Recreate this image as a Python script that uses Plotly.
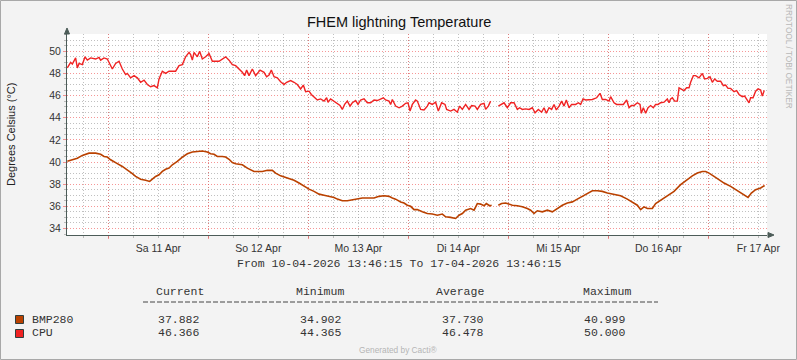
import plotly.graph_objects as go
from datetime import datetime, timedelta

BASE = datetime(2026, 4, 10)

# ---- data (hours since 2026-04-10 00:00, temperature in degC) ----
cpu_hours = [14.16, 14.95, 15.36, 16.15, 16.56, 16.97, 17.76, 18.41, 18.96, 19.75,
             20.95, 21.77, 22.15, 22.97, 23.76, 24.55, 24.96, 25.75, 26.57, 27.36,
             28.15, 28.56, 29.35, 30.17, 30.96, 31.75, 32.57, 33.36, 34.15, 34.97,
             35.76, 36.17, 36.96, 37.75, 38.57, 40.15, 40.97, 41.76, 42.55, 43.37,
             43.75, 44.16, 44.57, 45.36, 45.91, 46.56, 47.35, 48.17, 48.96, 50.57,
             51.36, 52.15, 52.97, 53.76, 54.55, 55.37, 56.16,
             56.71, 57.19, 57.77, 58.56, 59.35, 60.41, 61.37, 61.99, 62.57, 63.12,
             63.77, 64.56, 65.35, 66.17, 66.79, 67.75, 68.57, 69.36, 70.15, 70.8,
             71.35, 72.17, 72.72, 73.51, 74.16, 74.95, 75.77, 76.39, 76.73, 77.35,
             78.17, 78.96, 79.61, 80.16, 80.71, 81.36, 82.01, 82.56, 83.35, 83.93,
             84.55, 85.37, 86.16, 86.95, 87.77, 88.56, 89.35, 90.0, 90.55, 91.37,
             91.75, 92.16, 92.95, 93.77, 94.56, 95.35, 95.93, 96.41, 96.96, 97.75,
             98.16,
             98.96, 99.77, 100.56, 100.97, 101.76, 102.55, 103.2, 103.99, 104.81, 105.19,
             106.15, 106.97, 107.76, 108.31, 108.96, 109.75, 110.57, 111.19, 112.01, 112.56,
             113.35, 114.17, 114.55, 115.2, 115.75, 116.8, 117.6, 118.15, 118.97, 119.76,
             120.55, 121.37, 122.16, 122.71, 123.36, 124.15, 124.97, 125.76, 126.41, 127.2,
             127.99, 128.57, 129.12, 129.77, 130.39, 130.97, 131.52, 132.17, 132.79, 133.37,
             133.92, 134.57, 135.19, 136.15, 136.8, 137.35, 137.93, 138.55, 139.37, 140.16,
             141.19, 142.01, 142.56, 143.35, 144.17, 144.55, 145.37, 145.99, 146.81, 147.6,
             148.39, 148.97, 149.52, 150.17, 150.96, 151.61, 151.92, 152.4, 152.95, 153.53,
             154.15, 154.8, 155.35, 155.93, 156.55, 157.37, 158.16, 158.57, 158.95, 159.36,
             159.91, 160.56, 160.97, 161.52, 162.17, 162.79, 163.37, 163.75, 164.4, 164.95,
             165.77, 166.56, 167.11, 167.76, 168.41, 168.96, 169.51, 170.16, 170.95, 171.6,
             172.15, 172.73, 173.35, 174.17, 174.79, 175.37, 176.16, 176.71, 177.19, 177.77,
             178.15, 178.73, 179.35, 179.93, 180.55, 180.96, 181.37, 181.51]
cpu_temp = [48.5, 49.0, 48.85, 49.4, 48.5, 48.9, 48.8, 49.5, 49.2, 49.4,
            49.3, 49.45, 49.2, 49.4, 49.3, 48.7, 48.4, 48.9, 49.1, 48.4,
            47.9, 48.0, 47.6, 47.8, 47.6, 47.2, 47.4, 47.0, 46.8, 46.9,
            46.7, 47.5, 48.2, 48.0, 48.2, 48.2, 48.7, 48.8, 49.5, 49.9,
            49.7, 49.2, 49.9, 49.5, 50.0, 49.3, 49.5, 49.8, 49.1, 49.1,
            49.3, 49.5, 49.2, 48.8, 48.7, 48.4, 48.1,
            47.8, 48.3, 47.8, 48.4, 47.8, 48.3, 48.1, 47.7, 47.85, 48.3,
            47.7, 47.6, 47.25, 47.0, 47.2, 47.35, 47.2, 47.0, 46.6, 46.95,
            46.35, 46.4, 46.1, 45.8, 45.6, 45.7, 45.5, 45.8, 45.4, 45.7,
            45.5, 45.3, 45.1, 44.75, 45.2, 45.5, 45.05, 45.35, 45.55, 45.2,
            45.6, 45.7, 45.35, 45.35, 45.6, 45.55, 45.65, 45.8, 45.6, 45.5,
            45.2, 45.65, 45.05, 44.9, 45.05, 45.3, 45.35, 44.6, 45.2, 45.6,
            45.5,
            44.75, 44.7, 45.05, 45.35, 45.2, 45.4, 44.6, 45.35, 45.2, 44.75,
            44.6, 44.75, 44.5, 45.05, 44.75, 45.2, 44.75, 45.1, 45.05, 44.75,
            45.2, 45.3, 44.75, 45.05, 45.5, None, 45.05, 45.2, 45.35, 44.9,
            45.35, 45.35, 44.75, 44.9, 44.75, 44.8, 44.75, 44.9, 44.45, 44.75,
            44.5, 44.9, 44.4, 44.9, 44.75, 45.2, 44.7, 45.05, 45.5, 45.05,
            45.6, 44.9, 45.2, 45.2, 45.35, 45.2, 45.7, 45.6, 45.6, 45.65,
            45.8, 46.2, 45.65, 45.65, 45.5, 45.9, 45.35, 45.2, 45.2, 45.2,
            45.6, 44.9, 45.1, 45.1, 45.35, 45.2, 44.4, 44.9, 44.4, 44.9,
            45.1, 44.9, 45.2, 45.2, 45.35, 45.4, 45.7, 45.35, 45.7, 45.8,
            45.5, 45.5, 46.7, 46.6, 46.45, 46.7, 46.7, 47.2, 47.8, 47.8,
            47.6, 48.0, 47.5, 47.55, 47.7, 47.2, 47.5, 47.3, 47.3, 46.9,
            46.95, 46.65, 46.65, 46.35, 46.45, 46.1, 45.9, 45.95, 45.65, 45.35,
            45.8, 45.8, 46.4, 46.6, 46.5, 45.95, 46.4, 46.37]

bmp_hours = [14.16, 15.36, 16.56, 17.76, 18.55, 19.37, 20.95, 22.15, 22.97, 23.76,
             24.55, 25.37, 26.16, 27.36, 28.56, 29.76, 30.55, 31.75, 32.95, 33.91,
             34.56, 35.35, 36.17, 36.96, 37.75, 38.57, 39.36, 40.56, 41.76, 42.96,
             44.16, 45.36, 46.56, 47.76, 48.55, 49.37, 50.16, 51.36, 52.15, 52.97,
             53.76, 54.55, 56.16,
             57.36, 58.97, 60.96, 62.16, 63.36, 64.15, 65.35, 66.96, 68.57, 69.77,
             70.97, 72.17, 73.37, 74.57, 75.77, 76.97, 78.17, 78.96, 80.16, 81.36,
             82.56, 83.76, 84.96, 87.77, 88.97, 90.17, 91.37, 92.16, 92.95, 94.15,
             94.97, 95.76, 96.55, 97.37,
             98.16, 99.36, 100.56, 101.76, 102.96, 104.16, 104.95, 106.15, 107.35, 108.17,
             108.96, 109.75, 110.95, 111.77, 112.56, 113.35, 114.17, 114.72, 115.51, 115.99,
             116.8, 117.6, 118.39, 119.35, 120.17, 120.96, 122.16, 123.36, 124.56, 125.35,
             126.17, 126.96, 128.16, 129.36, 130.56, 131.76, 132.96, 134.16, 135.36, 136.56,
             137.76, 138.96, 140.16,
             141.36, 142.56, 143.76, 145.37, 146.95, 148.56, 149.76, 150.96, 151.75, 152.57,
             153.36, 154.56, 155.35, 156.55, 158.16, 159.77, 161.35, 162.96, 164.16, 165.36,
             166.56, 167.35, 168.17, 169.37, 170.57, 171.77, 173.35, 174.55, 175.75, 176.71,
             177.53, 178.32, 179.35, 180.55, 181.51]
bmp_temp = [40.06, 40.2, 40.35, 40.6, 40.7, 40.8, 40.8, 40.7, 40.5, 40.45,
            40.2, 40.05, 39.85, 39.6, 39.3, 38.95, 38.7, 38.45, 38.35, 38.25,
            38.45, 38.7, 38.85, 39.15, 39.35, 39.45, 39.75, 40.05, 40.45, 40.75,
            40.9, 40.97, 40.99, 40.9, 40.75, 40.7, 40.5, 40.5, 40.45, 40.25,
            39.95, 39.85, 39.75,
            39.45, 39.15, 39.15, 39.25, 39.25, 39.0, 38.75, 38.55, 38.35, 38.1,
            37.8, 37.55, 37.35, 37.1, 37.0, 36.9, 36.8, 36.65, 36.5, 36.5,
            36.6, 36.7, 36.75, 36.75, 36.9, 36.95, 36.9, 36.75, 36.65, 36.4,
            36.3, 36.1, 36.0, 35.7,
            35.7, 35.5, 35.35, 35.3, 35.2, 35.3, 35.05, 35.0, 34.9, 35.2,
            35.35, 35.65, 35.8, 35.65, 36.25, 36.2, 36.05, 36.25, 36.05, 36.1,
            None, 36.1, 36.25, 36.3, 36.2, 36.1, 36.05, 35.97, 35.8, 35.65,
            35.35, 35.6, 35.5, 35.65, 35.5, 35.8, 36.1, 36.3, 36.4, 36.65,
            36.9, 37.2, 37.4,
            37.4, 37.35, 37.2, 37.1, 36.95, 36.65, 36.4, 36.1, 35.7, 35.95,
            35.8, 35.8, 36.25, 36.55, 36.9, 37.35, 37.95, 38.4, 38.75, 39.0,
            39.15, 39.15, 39.0, 38.7, 38.4, 38.1, 37.8, 37.5, 37.2, 36.95,
            36.8, 37.2, 37.5, 37.65, 37.88]

day_ticks = ["2026-04-11", "2026-04-12", "2026-04-13", "2026-04-14",
             "2026-04-15", "2026-04-16", "2026-04-17"]
day_labels = ["Sa 11 Apr", "So 12 Apr", "Mo 13 Apr", "Di 14 Apr",
              "Mi 15 Apr", "Do 16 Apr", "Fr 17 Apr"]

series_names = ["BMP280", "CPU"]
stat_headers = ["Current", "Minimum", "Average", "Maximum"]
stats_bmp280 = ["37.882", "34.902", "37.730", "40.999"]
stats_cpu = ["46.366", "44.365", "46.478", "50.000"]

title_text = "FHEM lightning Temperature"
y_title = "Degrees Celsius (°C)"
period_text = "From 10-04-2026 13:46:15 To 17-04-2026 13:46:15"

# ---- style ----
C_BMP = "#BA4100"
C_CPU = "#F02323"
MGRID = "rgba(240,80,80,0.6)"
GRID = "rgba(130,130,130,0.5)"
AXIS = "#4C5C58"
SANS = "Liberation Sans"
MONO = "Liberation Mono"

L, R, T, B = 67, 767, 34, 235  # plot area in pixels
W, H = 797, 360


def hx(h):
    return BASE + timedelta(hours=h)


def P(px, py):
    return (px - L) / (R - L), (B - py) / (B - T)


fig = go.Figure()
fig.add_trace(go.Scatter(x=[hx(h) for h in bmp_hours], y=bmp_temp, mode="lines",
                         line=dict(color=C_BMP, width=1.6), name=series_names[0],
                         showlegend=False))
fig.add_trace(go.Scatter(x=[hx(h) for h in cpu_hours], y=cpu_temp, mode="lines",
                         line=dict(color=C_CPU, width=1.4), name=series_names[1],
                         showlegend=False))

annotations = []


def txt(px, py, s, size, family=SANS, color="#222222", xanchor="center", angle=0):
    x, y = P(px, py)
    annotations.append(dict(x=x, y=y, xref="paper", yref="paper", text=s, showarrow=False,
                            xanchor=xanchor, yanchor="middle", textangle=angle,
                            font=dict(size=size, family=family, color=color)))


txt(398.5, 22, title_text, 14.5, color="#111111")
txt(11, 135, y_title, 11, color="#222222", angle=-90)
txt(789, 56, "RRDTOOL / TOBI OETIKER", 8.3, color="#B8B8B8", angle=90)
txt(398.5, 263, period_text, 11.5, family=MONO, color="#333333")
header_x = [179.5, 320, 460, 607]
value_x = [178.8, 321, 463, 605]
for hx_, s in zip(header_x, stat_headers):
    txt(hx_, 291, s, 11.5, family=MONO, color="#333333")
rows_y = [319, 332.3]
for ry, name, stats in zip(rows_y, series_names, [stats_bmp280, stats_cpu]):
    txt(30, ry, name, 11.5, family=MONO, xanchor="left", color="#333333")
    for vx, s in zip(value_x, stats):
        txt(vx, ry, s, 11.5, family=MONO, color="#333333")
txt(398, 349.5, "Generated by Cacti®", 8.3, color="#B5B5B5")

shapes = []


def rect(px0, py0, px1, py1, fill, line):
    x0, y0 = P(px0, py0)
    x1, y1 = P(px1, py1)
    shapes.append(dict(type="rect", xref="paper", yref="paper", x0=x0, y0=y0, x1=x1, y1=y1,
                       fillcolor=fill, line=dict(color=line, width=1), layer="above"))


def tri(pts, color):
    path = "M " + " L ".join("%f,%f" % P(a, b) for a, b in pts) + " Z"
    shapes.append(dict(type="path", xref="paper", yref="paper", path=path,
                       fillcolor=color, line=dict(color=color, width=1), layer="above"))


rect(0.5, 0.5, 796.5, 359.5, "rgba(0,0,0,0)", "#A8A8A8")
rect(15.5, 315.5, 23.5, 323.5, C_BMP, "#2F3F3F")
rect(15.5, 329.5, 23.5, 337.5, C_CPU, "#2F3F3F")
tri([(67, 28), (64.5, 34), (69.5, 34)], AXIS)
tri([(774, 235), (768, 232.5), (768, 237.5)], AXIS)
# dashed separator under the column headers
dx0, dy = P(143, 302)
dx1, _ = P(658, 302)
shapes.append(dict(type="line", xref="paper", yref="paper", x0=dx0, x1=dx1, y0=dy, y1=dy,
                   line=dict(color="#444444", width=1, dash="5px,2px"), layer="above"))

fig.update_layout(
    width=W, height=H, autosize=False,
    margin=dict(l=L, r=W - R, t=T, b=H - B, pad=0),
    paper_bgcolor="#F3F3F3", plot_bgcolor="#FFFFFF",
    showlegend=False,
    annotations=annotations, shapes=shapes,
    xaxis=dict(
        type="date", range=[hx(14.08), hx(182.08)],
        tickmode="array", tickvals=day_ticks, ticktext=day_labels,
        ticklabelshift=50, ticklabelstandoff=0,
        showgrid=True, gridcolor=MGRID, griddash="1px,2px", gridwidth=1,
        ticks="outside", ticklen=3, tickcolor=MGRID,
        showline=True, linecolor=AXIS, linewidth=1, zeroline=False,
        tickfont=dict(family=SANS, size=10.5, color="#333333"),
        minor=dict(dtick=6 * 3600 * 1000, tick0="2026-04-11", showgrid=True,
                   gridcolor=GRID, griddash="1px,2px", gridwidth=1,
                   ticks="outside", ticklen=2, tickcolor=GRID),
        fixedrange=True,
    ),
    yaxis=dict(
        range=[33.41, 51.56], tickmode="linear", tick0=34, dtick=2,
        showgrid=True, gridcolor=MGRID, griddash="1px,2px", gridwidth=1,
        ticks="outside", ticklen=3, tickcolor=MGRID,
        showline=True, linecolor=AXIS, linewidth=1, zeroline=False,
        tickfont=dict(family=SANS, size=10.5, color="#333333"),
        minor=dict(dtick=0.5, showgrid=True, gridcolor=GRID, griddash="1px,2px",
                   gridwidth=1, ticks="outside", ticklen=2, tickcolor=GRID),
        fixedrange=True,
    ),
)

fig.write_html("out.html", config={"displayModeBar": False},
               post_script="document.body.style.margin='0';document.body.style.padding='0';")
